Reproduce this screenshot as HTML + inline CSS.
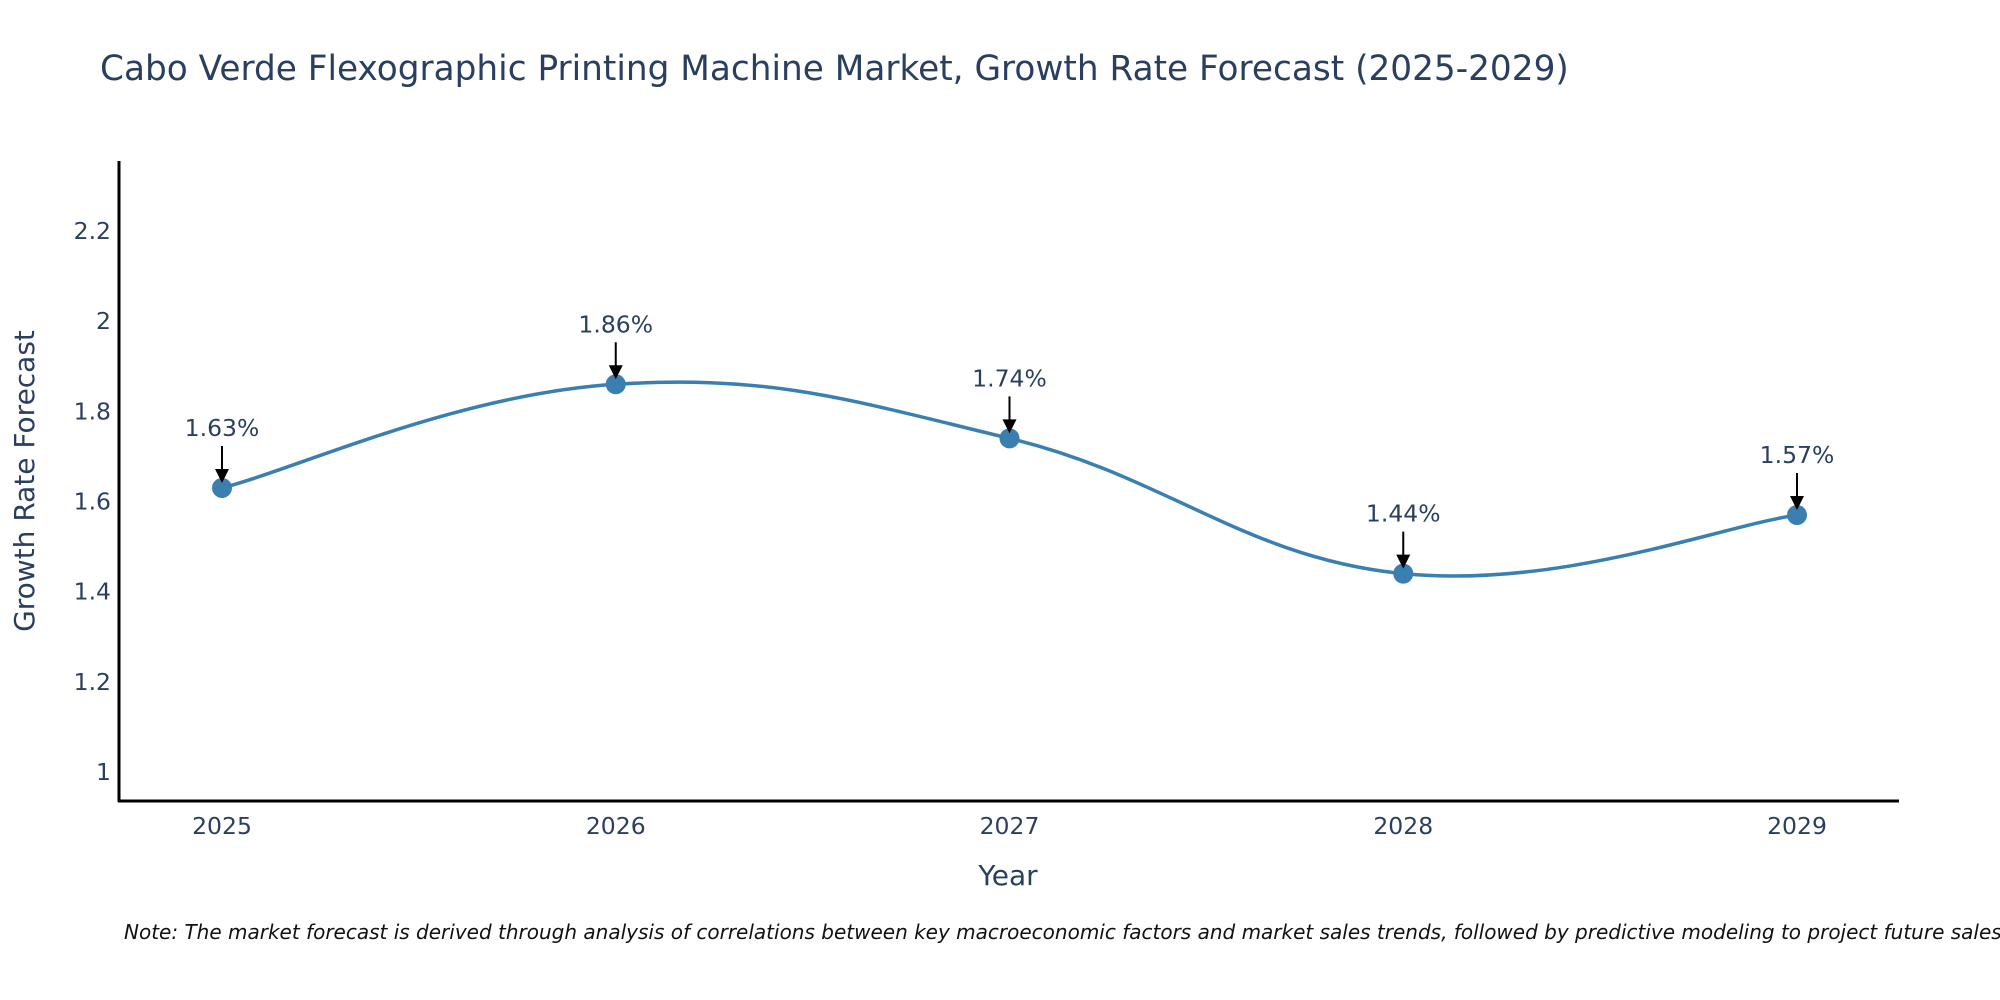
<!DOCTYPE html>
<html><head><meta charset="utf-8">
<style>
body{margin:0;background:#fff;}
svg{display:block;font-family:"DejaVu Sans","Liberation Sans",sans-serif;}
</style></head>
<body>
<svg id="chart" width="2000" height="1000">
<text x="100" y="80" font-size="34.3" fill="#2a3f5f">Cabo Verde Flexographic Printing Machine Market, Growth Rate Forecast (2025-2029)</text>
<g id="yticks"></g>
<g id="xticks"></g>
<path id="series" fill="none" stroke="#3a7fb0" stroke-width="3.5"></path>
<g id="marks"></g>
<g id="annots"></g>
<line x1="119" y1="161" x2="119" y2="802" stroke="#000" stroke-width="3"/>
<line x1="118" y1="801" x2="1899" y2="801" stroke="#000" stroke-width="3"/>
<text x="1008" y="885" font-size="28" fill="#2a3f5f" text-anchor="middle">Year</text>
<text transform="translate(34,481) rotate(-90)" font-size="28" fill="#2a3f5f" text-anchor="middle">Growth Rate Forecast</text>
<text x="124" y="939" font-size="20" font-style="italic" fill="#111">Note: The market forecast is derived through analysis of correlations between key macroeconomic factors and market sales trends, followed by predictive modeling to project future sales.</text>
</svg>
<script>
const years = [2025, 2026, 2027, 2028, 2029];
const growth = [1.63, 1.86, 1.74, 1.44, 1.57];
const yTicks = [1, 1.2, 1.4, 1.6, 1.8, 2, 2.2];
const yTickLabels = ["1", "1.2", "1.4", "1.6", "1.8", "2", "2.2"];

const NS = "http://www.w3.org/2000/svg";
const xScale = v => 222 + (v - 2025) * (1797 - 222) / 4;
const yScale = v => 772 - (v - 1) * (772 - 231) / 1.2;
function mk(tag, attrs, parent, txt){
  const e = document.createElementNS(NS, tag);
  for (const k in attrs) e.setAttribute(k, attrs[k]);
  if (txt !== undefined) e.textContent = txt;
  parent.appendChild(e); return e;
}
const yt = document.getElementById('yticks');
yTicks.forEach((t,i)=>{
  const e = mk('text',{x:111,y:yScale(t)+8,'font-size':23.5,fill:'#2a3f5f','text-anchor':'end'},yt,yTickLabels[i]);
  
  
});
const xt = document.getElementById('xticks');
years.forEach(y=>{
  const e = mk('text',{x:xScale(y),y:834,'font-size':23.5,fill:'#2a3f5f','text-anchor':'middle'},xt,String(y));
  
  
});
const pts = years.map((y,i)=>[xScale(y), yScale(growth[i])]);
let d = `M${pts[0][0]},${pts[0][1]}`;
const t = 0.2;
for (let i=0;i<pts.length-1;i++){
  const p0 = pts[Math.max(i-1,0)], p1=pts[i], p2=pts[i+1], p3=pts[Math.min(i+2,pts.length-1)];
  const c1=[p1[0]+(p2[0]-p0[0])*t, p1[1]+(p2[1]-p0[1])*t];
  const c2=[p2[0]-(p3[0]-p1[0])*t, p2[1]-(p3[1]-p1[1])*t];
  d += ` C${c1[0]},${c1[1]} ${c2[0]},${c2[1]} ${p2[0]},${p2[1]}`;
}
document.getElementById('series').setAttribute('d', d);
const mg = document.getElementById('marks');
const ag = document.getElementById('annots');
pts.forEach((p,i)=>{
  const c = mk('circle',{cx:p[0],cy:p[1],r:10,fill:'#3a7fb0'},mg);
  
  
  const a = mk('g',{},ag);
  
  
  mk('line',{x1:p[0],y1:p[1]-42,x2:p[0],y2:p[1]-18,stroke:'#000','stroke-width':2},a);
  mk('polygon',{points:`${p[0]-7},${p[1]-19} ${p[0]+7},${p[1]-19} ${p[0]},${p[1]-5}`,fill:'#000'},a);
  mk('text',{x:p[0],y:p[1]-52,'font-size':23.5,fill:'#2a3f5f','text-anchor':'middle'},a,growth[i].toFixed(2)+'%');
});
</script>
</body></html>
